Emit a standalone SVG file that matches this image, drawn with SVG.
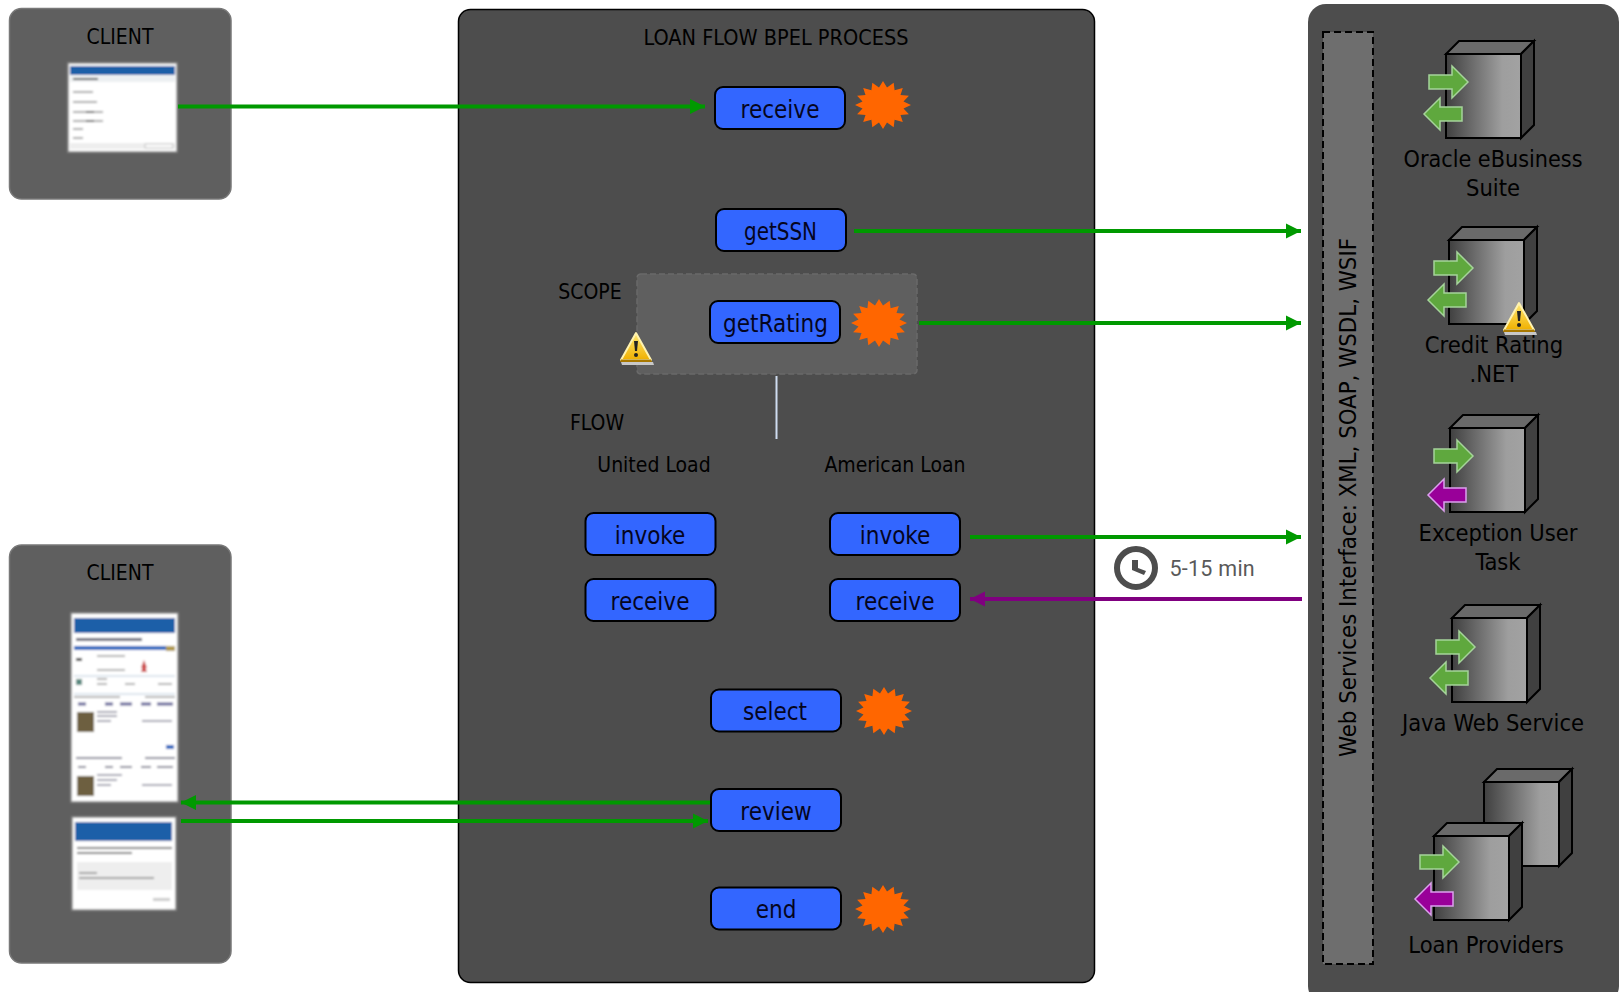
<svg xmlns="http://www.w3.org/2000/svg" width="1623" height="992" viewBox="0 0 1623 992">
<style>
text{font-family:"DejaVu Sans Condensed","DejaVu Sans",sans-serif;fill:#000;text-anchor:middle}
.t{font-size:21px}
.n{font-size:24px;fill:#05051e}
.s{font-size:23.500px;fill:#000}
.node{fill:#3366ff;stroke:#000;stroke-width:2}
.process{stroke:#000;stroke-width:1.500;fill:#4d4d4d}
.client{stroke:#787878;stroke-width:1.500;fill:#5f5f5f}
.lg{fill:none;stroke:#009900;stroke-width:4}
.lp{fill:none;stroke:#800080;stroke-width:4}
.ga{fill:#5fa83e;stroke:#a5d49a;stroke-width:1.500}
.pa{fill:#990099;stroke:#dca0ee;stroke-width:1.500}
.cb{stroke:#000;stroke-width:2;stroke-linejoin:miter}
</style>
<defs>
<marker id="ag" markerUnits="userSpaceOnUse" markerWidth="16" markerHeight="16" refX="15" refY="8" orient="auto"><path d="M0,0.500L15,8L0,15.500z" fill="#009900"/></marker>
<marker id="ap" markerUnits="userSpaceOnUse" markerWidth="16" markerHeight="16" refX="15" refY="8" orient="auto"><path d="M0,0.500L15,8L0,15.500z" fill="#800080"/></marker>
<linearGradient id="front"><stop offset="0" stop-color="#404040"/><stop offset="0.75" stop-color="#9e9e9e"/><stop offset="1" stop-color="#a2a2a2"/></linearGradient>
<linearGradient id="gold" x1="0" y1="0" x2="0" y2="1"><stop offset="0" stop-color="#ffe873"/><stop offset="1" stop-color="#f0b000"/></linearGradient>
<filter id="blur" x="-5%" y="-5%" width="110%" height="110%"><feGaussianBlur stdDeviation="0.900"/></filter>
<g id="cube">
<path class="cb" d="M0,0L13,-13H88L75,0z" fill="#6a6a6a"/>
<path class="cb" d="M75,0L88,-13V71L75,84z" fill="#404040"/>
<rect class="cb" x="0" y="0" width="75" height="84" fill="url(#front)"/>
</g>
<path id="arr" d="M0,-7H23V-16L39,0L23,16V7H0z"/>
<path id="arl" d="M38,-7H16V-16L0,0L16,16V7H38z"/>
<polygon id="star" fill="#ff6600" points="28,0 20.500,3.500 25.900,9.200 17.500,10 19.800,17 11.600,14.800 10.700,22.200 4,17.500 0,24 -4,17.500 -10.700,22.200 -11.600,14.800 -19.800,17 -17.500,10 -25.900,9.200 -20.500,3.500 -28,0 -20.500,-3.500 -25.900,-9.200 -17.500,-10 -19.800,-17 -11.600,-14.800 -10.700,-22.200 -4,-17.500 0,-24 4,-17.500 10.700,-22.200 11.600,-14.800 19.800,-17 17.500,-10 25.900,-9.200 20.500,-3.500"/>
<g id="warn">
<path d="M-15,15H17L18,18H-14z" fill="#c8c8c8"/>
<path d="M0,-14L15,13H-15z" fill="url(#gold)" stroke="#fff3b0" stroke-width="2" stroke-linejoin="round"/>
<path d="M-15,12.500H15L16,15H-16z" fill="#a87800"/>
<path d="M-2,-6H2L1,4H-1z" fill="#222"/><circle cx="0" cy="8" r="2" fill="#222"/>
</g>
</defs>

<g id="client-top">
<rect class="client" x="9.500" y="8.500" width="221.500" height="190.500" rx="12"/>
<text class="t" x="120" y="44">CLIENT</text>
<g filter="url(#blur)">
<rect x="68" y="63" width="109" height="89" fill="#fff" stroke="#8a8a8a" stroke-width="1.500"/>
<rect x="70" y="66" width="105" height="9" fill="#1f5fa8"/>
<rect x="70" y="76" width="105" height="6" fill="#edf0f2"/>
<rect x="73" y="78" width="25" height="2" fill="#555"/>
<path d="M73,92h20M73,102h24M73,112h30M73,121h30M73,129h10M73,138h10" stroke="#aaa" stroke-width="2"/>
<path d="M86,112h8M86,121h8" stroke="#555" stroke-width="2"/>
<rect x="70" y="143" width="105" height="6" fill="#eee"/>
<rect x="145" y="144" width="28" height="4" fill="#fff" stroke="#aaa" stroke-width="0.700"/>
</g>
</g>

<g id="client-bottom">
<rect class="client" x="9.500" y="545" width="221.500" height="418" rx="12"/>
<text class="t" x="120" y="580">CLIENT</text>
<g filter="url(#blur)">
<rect x="71" y="613" width="107" height="189" fill="#fff" stroke="#8a8a8a" stroke-width="1.500"/>
<rect x="74" y="618" width="101" height="15" fill="#1f5fa8"/>
<rect x="76" y="638" width="66" height="3" fill="#667"/>
<rect x="74" y="646" width="101" height="4" fill="#1f66c0"/>
<rect x="166" y="646" width="9" height="5" fill="#b09a50"/>
<path d="M74,676h101M74,694h101" stroke="#bcd" stroke-width="1"/>
<rect x="76" y="658" width="6" height="3" fill="#444"/>
<path d="M97,656h28M97,670h28M97,679h10M97,684h10M125,684h10M158,684h14M74,697h46M145,697h30" stroke="#999" stroke-width="1.500"/>
<path d="M141,668l3,-8l3,8zM141,672l3,-8l3,8" fill="#c44"/>
<rect x="76" y="679" width="6" height="6" fill="#5a8a80"/>
<path d="M78,704h8M105,704h8M120,704h12M141,704h10M157,704h16" stroke="#669" stroke-width="3"/>
<rect x="77" y="712" width="17" height="20" fill="#6d5f3f"/>
<path d="M97,712h20M97,716h20M97,721h14M142,721h30" stroke="#889" stroke-width="1.500"/>
<rect x="166" y="745" width="8" height="4" fill="#1f66c0"/>
<path d="M76,758h46M145,758h30M78,767h8M105,767h8M120,767h12M141,767h10M157,767h16" stroke="#889" stroke-width="2"/>
<rect x="77" y="776" width="17" height="20" fill="#6d5f3f"/>
<path d="M97,775h25M97,780h20M97,785h14M142,785h30" stroke="#889" stroke-width="1.500"/>
<rect x="72" y="817" width="104" height="93" fill="#fff" stroke="#8a8a8a" stroke-width="1.500"/>
<rect x="75" y="822" width="97" height="19" fill="#1f5fa8"/>
<path d="M77,848h95M77,853h55" stroke="#777" stroke-width="2"/>
<rect x="77" y="862" width="95" height="28" fill="#eee"/>
<path d="M79,873h18M79,878h75" stroke="#888" stroke-width="1.500"/>
<rect x="153" y="898" width="17" height="3" fill="#ccc"/>
</g>
</g>

<g id="process">
<rect class="process" x="458.500" y="9.500" width="636" height="973" rx="12"/>
<text class="t" x="776" y="45" textLength="265" lengthAdjust="spacingAndGlyphs">LOAN FLOW BPEL PROCESS</text>
</g>

<g id="scope">
<rect x="637" y="274" width="280" height="100" rx="4" fill="#5f5f5f" stroke="#6a6a6a" stroke-width="1.500" stroke-dasharray="6 3"/>
<text class="t" x="590" y="299">SCOPE</text>
<use href="#warn" x="636" y="347"/>
</g>
<text class="t" x="597" y="430">FLOW</text>
<text class="t" x="654" y="472">United Load</text>
<text class="t" x="895" y="472">American Loan</text>

<g id="services">
<rect x="1308" y="4" width="311" height="1000" rx="18" fill="#4d4d4d"/>
<rect x="1323" y="32" width="50" height="932" fill="#6e6e6e" stroke="#000" stroke-width="2" stroke-dasharray="7 4"/>
<text class="s" transform="translate(1356 497.500) rotate(-90)" textLength="519" lengthAdjust="spacingAndGlyphs">Web Services Interface: XML, SOAP, WSDL, WSIF</text>
</g>

<g id="oracle">
<use href="#cube" x="1446" y="54"/><use class="ga" href="#arr" x="1429" y="82"/><use class="ga" href="#arl" x="1424" y="114"/>
<text class="s" x="1493" y="167" textLength="179" lengthAdjust="spacingAndGlyphs">Oracle eBusiness</text><text class="s" x="1493" y="196">Suite</text>
</g>
<g id="credit">
<use href="#cube" x="1449" y="240"/><use class="ga" href="#arr" x="1434" y="268"/><use class="ga" href="#arl" x="1428" y="300"/>
<use href="#warn" x="1519" y="317"/>
<text class="s" x="1494" y="353">Credit Rating</text><text class="s" x="1494" y="382">.NET</text>
</g>
<g id="exception">
<use href="#cube" x="1450" y="428"/><use class="ga" href="#arr" x="1434" y="456"/><use class="pa" href="#arl" x="1428" y="495"/>
<text class="s" x="1498" y="541">Exception User</text><text class="s" x="1498" y="570">Task</text>
</g>
<g id="java">
<use href="#cube" x="1452" y="618"/><use class="ga" href="#arr" x="1436" y="647"/><use class="ga" href="#arl" x="1430" y="678"/>
<text class="s" x="1493" y="731">Java Web Service</text>
</g>
<g id="loan">
<use href="#cube" x="1484" y="782"/><use href="#cube" x="1434" y="836"/><use class="ga" href="#arr" x="1420" y="862"/><use class="pa" href="#arl" x="1415" y="899"/>
<text class="s" x="1486" y="953">Loan Providers</text>
</g>

<g id="connectors">
<path class="lg" d="M178,106.500H705" marker-end="url(#ag)"/>
<path class="lg" d="M854,231H1301" marker-end="url(#ag)"/>
<path class="lg" d="M919,323H1301" marker-end="url(#ag)"/>
<path class="lg" d="M970,537H1301" marker-end="url(#ag)"/>
<path class="lp" d="M1302,599H970" marker-end="url(#ap)"/>
<path class="lg" d="M711,802.500H181" marker-end="url(#ag)"/>
<path class="lg" d="M181,821H708" marker-end="url(#ag)"/>
<path d="M776.500,376V439" fill="none" stroke="#cfdcf0" stroke-width="2"/>
</g>

<g id="n-receive"><rect class="node" x="715" y="87" width="130" height="42" rx="8"/><text class="n" x="780" y="118">receive</text><use href="#star" x="883" y="105"/></g>
<g id="n-getssn"><rect class="node" x="716" y="209" width="130" height="42" rx="8"/><text class="n" x="780.500" y="240" textLength="73" lengthAdjust="spacingAndGlyphs">getSSN</text></g>
<g id="n-getrating"><rect class="node" x="710" y="301" width="130" height="42" rx="8"/><text class="n" x="775.500" y="332">getRating</text><use href="#star" x="879" y="323"/></g>
<g id="n-invoke1"><rect class="node" x="585.500" y="513" width="130" height="42" rx="8"/><text class="n" x="650" y="544">invoke</text></g>
<g id="n-invoke2"><rect class="node" x="830" y="513" width="130" height="42" rx="8"/><text class="n" x="895" y="544">invoke</text></g>
<g id="n-receive1"><rect class="node" x="585.500" y="579" width="130" height="42" rx="8"/><text class="n" x="650" y="609.500">receive</text></g>
<g id="n-receive2"><rect class="node" x="830" y="579" width="130" height="42" rx="8"/><text class="n" x="895" y="609.500">receive</text></g>
<g id="n-select"><rect class="node" x="711" y="689.500" width="130" height="42" rx="8"/><text class="n" x="775" y="720">select</text><use href="#star" x="884" y="711"/></g>
<g id="n-review"><rect class="node" x="711" y="789" width="130" height="42" rx="8"/><text class="n" x="776" y="820">review</text></g>
<g id="n-end"><rect class="node" x="711" y="887.500" width="130" height="42" rx="8"/><text class="n" x="776" y="918">end</text><use href="#star" x="883" y="909"/></g>

<g id="timer">
<circle cx="1136" cy="568" r="19" fill="none" stroke="#4d4d4d" stroke-width="6"/>
<path d="M1132,560H1138V568L1146,571L1144,575L1132,570z" fill="#4d4d4d"/>
<text x="1169.500" y="576" style="font-family:Roboto,sans-serif;font-size:21.500px;letter-spacing:.25px;fill:#595959;text-anchor:start">5-15 min</text>
</g>
</svg>
